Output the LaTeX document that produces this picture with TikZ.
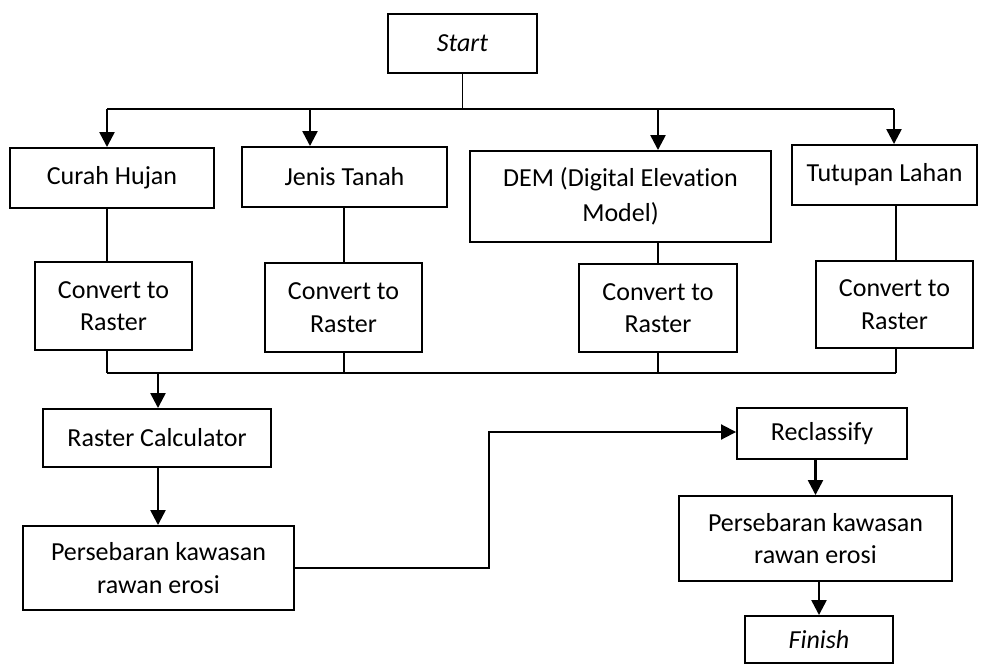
\documentclass[tikz,border=0pt]{standalone}
\usepackage{fontspec}
\setmainfont{Carlito}[Ligatures=NoCommon]
\usetikzlibrary{arrows.meta,positioning,calc}

\begin{document}
\begin{tikzpicture}[
  box/.style={draw, line width=1.1pt, inner sep=0pt, align=center,
              font=\fontsize{14.8}{18.5}\selectfont},
  arr/.style={-{Triangle[length=3mm, width=3mm]}, line width=1.4pt},
  link/.style={line width=0.9pt}
]
\useasboundingbox (0,0) rectangle (19.78,-13.4);

\node[box, minimum width=2.98cm, minimum height=1.18cm] (start) at (9.25,-0.87) {\textit{Start}};

\node[box, minimum width=4.08cm, minimum height=1.20cm] (curah) at (2.24,-3.56) {Curah Hujan};
\node[box, minimum width=4.10cm, minimum height=1.20cm] (jenis) at (6.89,-3.54) {Jenis Tanah};
\node[box, minimum width=6.02cm, minimum height=1.82cm,
      font=\fontsize{14.8}{19.8}\selectfont] (dem) at (12.41,-3.93) {DEM (Digital Elevation\\Model)};
\node[box, minimum width=3.70cm, minimum height=1.20cm] (tutup) at (17.69,-3.50) {Tutupan Lahan};

\node[box, minimum width=3.14cm, minimum height=1.76cm] (conv1) at (2.27,-6.12) {Convert to\\Raster};
\node[box, minimum width=3.14cm, minimum height=1.78cm] (conv2) at (6.87,-6.15) {Convert to\\Raster};
\node[box, minimum width=3.16cm, minimum height=1.76cm] (conv3) at (13.16,-6.16) {Convert to\\Raster};
\node[box, minimum width=3.14cm, minimum height=1.74cm] (conv4) at (17.89,-6.09) {Convert to\\Raster};

\node[box, minimum width=4.56cm, minimum height=1.16cm] (rcalc) at (3.14,-8.76) {Raster Calculator};
\node[box, minimum width=5.42cm, minimum height=1.68cm] (pers1) at (3.17,-11.36) {Persebaran kawasan\\rawan erosi};

\node[box, minimum width=3.40cm, minimum height=1.02cm] (reclass) at (16.44,-8.67) {Reclassify};
\node[box, minimum width=5.46cm, minimum height=1.70cm] (pers2) at (16.31,-10.77) {Persebaran kawasan\\rawan erosi};
\node[box, minimum width=2.96cm, minimum height=0.94cm] (finish) at (16.38,-12.79) {\textit{Finish}};

% split from start
\coordinate (t1) at (2.14,-2.18);
\coordinate (t2) at (6.20,-2.18);
\coordinate (t3) at (13.16,-2.18);
\coordinate (t4) at (17.88,-2.18);
\draw[link] (start.south) -- (start.south |- t1);
\draw[link] (t1) -- (t4);
\draw[arr] (t1) -- (t1 |- curah.north);
\draw[arr] (t2) -- (t2 |- jenis.north);
\draw[arr] (t3) -- (t3 |- dem.north);
\draw[arr] (t4) -- (t4 |- tutup.north);

% join into raster calculator
\coordinate (b1) at (2.14,-7.46);
\coordinate (b2) at (6.88,-7.46);
\coordinate (b3) at (13.16,-7.46);
\coordinate (b4) at (17.92,-7.46);
\coordinate (bc) at (3.16,-7.46);
\draw[link] (b1 |- curah.south) -- (b1 |- conv1.north);
\draw[link] (b2 |- jenis.south) -- (b2 |- conv2.north);
\draw[link] (b3 |- dem.south) -- (b3 |- conv3.north);
\draw[link] (b4 |- tutup.south) -- (b4 |- conv4.north);
\draw[link] (b1 |- conv1.south) -- (b1);
\draw[link] (b2 |- conv2.south) -- (b2);
\draw[link] (b3 |- conv3.south) -- (b3);
\draw[link] (b4 |- conv4.south) -- (b4);
\draw[link] (b1) -- (b4);
\draw[arr] (bc) -- (bc |- rcalc.north);
\draw[arr] (bc |- rcalc.south) -- (bc |- pers1.north);

% to reclassify
\coordinate (k) at (9.78,-8.64);
\draw[arr, line width=1.1pt] (pers1.east) -| (k) -- (k -| reclass.west);
\draw[arr] (reclass.south -| pers2.north) -- (pers2.north);
\draw[arr] (pers2.south -| finish.north) -- (finish.north);
\end{tikzpicture}
\end{document}
